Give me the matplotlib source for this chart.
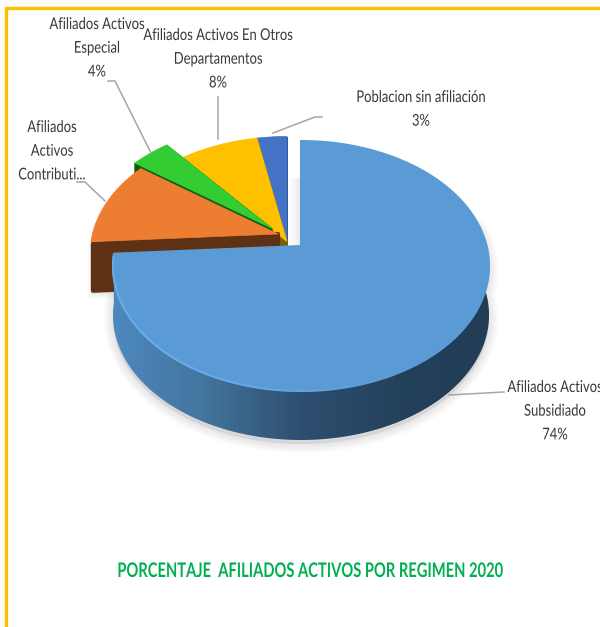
import numpy as np
import matplotlib
matplotlib.use("Agg")
import matplotlib.pyplot as plt
import matplotlib.patheffects as pe
from matplotlib.collections import LineCollection
from matplotlib.colors import to_rgb
from matplotlib.patches import Polygon
from matplotlib.transforms import Affine2D

plt.rcParams['font.family'] = ['Lato', 'Open Sans', 'DejaVu Sans']

# ---- data (clockwise from 12 o'clock) ----
categories = ["Afiliados Activos Subsidiado", "Afiliados Activos Contributivo",
              "Afiliados Activos Especial", "Afiliados Activos En Otros Departamentos",
              "Poblacion sin afiliación"]
values = [74, 11, 4, 8, 3]
title = "PORCENTAJE  AFILIADOS ACTIVOS POR REGIMEN 2020"

# ---- style ----
colors = ["#5B9BD5", "#ED7D31", "#33CC33", "#FFC000", "#4472C4"]
side_colors = ["#3F6F9E", "#5E3114", "#0E5C0E", "#7F6000", "#2F4F8F"]
offsets = [(14, 4.5), (-9, -7.5), (-15, -13), (0, 0), (0, 0)]
APEX = (287, 241.5)
A, B, K = 185.6, 121.8, 0.16
DEPTH = 49

fig = plt.figure(figsize=(6.0, 6.27), dpi=100)
ax = fig.add_axes([0, 0, 1, 1])
ax.axis("off")


class Squeeze(pe.AbstractPathEffect):
    """Narrow a real text horizontally about its anchor (condensed look)."""

    def __init__(self, sx, text):
        super().__init__()
        self.sx, self.text = sx, text

    def draw_path(self, renderer, gc, tpath, affine, rgbFace=None):
        cx = self.text.get_transform().transform(self.text.get_position())[0]
        squeezed = affine + Affine2D().translate(-cx, 0).scale(self.sx, 1).translate(cx, 0)
        renderer.draw_path(gc, tpath, squeezed, rgbFace)


def pt(theta_deg, off):
    t = np.radians(theta_deg)
    u, v = np.sin(t), np.cos(t)
    d = 1 + K * v
    return APEX[0] + off[0] + A * u / d, APEX[1] + off[1] - B * v / d


def wedge(t0, t1, off, n=200):
    th = np.linspace(t0, t1, n)
    x, y = pt(th, off)
    return np.r_[APEX[0] + off[0], x], np.r_[APEX[1] + off[1], y]


def soft_shadow(x, y, dy=3, widths=(13, 10, 7.5, 5, 2.5), z=1):
    for w in widths:
        ax.fill(x, np.asarray(y) + dy, fc="#808080", ec="#808080", lw=w,
                alpha=0.035, joinstyle="round", zorder=z)


edges = np.r_[0, np.cumsum(values)] * 360.0 / sum(values)

# frame
ax.plot([6, 6, 600], [627, 8, 8], color="#FFC000", lw=2.4, solid_joinstyle="miter", zorder=0.5)

# shadow next to the cut of the big slice
for w in (22, 16, 11, 6):
    ax.plot([301, 301], [178, 246], color="#808080", lw=w * 0.72, alpha=0.035,
            solid_capstyle="butt", zorder=1)

# back slices, last to second
for i in [4, 3, 2, 1]:
    x, y = wedge(edges[i], edges[i + 1], offsets[i])
    if i == 1:
        sx = np.r_[x[0], x[1] + 2, x[1] + 2, x[0]]
        sy = np.r_[y[0], y[1] + 2, y[1] + DEPTH, y[0] + DEPTH]
        soft_shadow(sx, sy, dy=3, widths=(8, 5, 2.5), z=2)
        ax.fill(sx, sy, fc=side_colors[i], ec=side_colors[i], lw=3,
                joinstyle="round", zorder=3 + (5 - i) * 0.1)
    else:
        for (px, py) in [(x[1], y[1]), (x[-1], y[-1])]:
            ax.fill([x[0], px, px, x[0]], [y[0], py, py + DEPTH, y[0] + DEPTH],
                    fc=side_colors[i], ec=side_colors[i], lw=0.5,
                    joinstyle="round", zorder=3 + (5 - i) * 0.1)
    ax.fill(x, y, fc=colors[i], ec=colors[i], lw=0.5, zorder=3.05 + (5 - i) * 0.1)

# big slice: wall with a smooth left-to-right shade
off = offsets[0]
stop_x = [114, 200, 300, 400, 490]
stop_c = np.array([to_rgb(c) for c in ["#4D88BE", "#44769F", "#2E4F70", "#24415C", "#223C54"]])
th = np.linspace(80, edges[1], 260)
tx, ty = pt(th, off)
wall_x = np.r_[tx, tx[::-1]]
wall_y = np.r_[ty, ty[::-1] + DEPTH]
soft_shadow(wall_x, wall_y, dy=4, z=2)
grid = np.arange(100, 505)
shade = np.stack([np.interp(grid, stop_x, stop_c[:, k]) for k in range(3)], axis=-1)[None, :, :]
im = ax.imshow(shade, extent=(100, 505, 450, 240), aspect="auto", interpolation="bilinear", zorder=4)
clip = Polygon(np.c_[wall_x, wall_y], closed=True, transform=ax.transData)
im.set_clip_path(clip)

# big slice: top
x, y = wedge(edges[0], edges[1], off)
ax.fill(x, y, fc=colors[0], ec=colors[0], lw=1.5, joinstyle="round", zorder=5)

# bright rim along the front-left edge
th = np.linspace(150, edges[1] - 1, 90)
rx, ry = pt(th, off)
segs = [[(rx[j], ry[j]), (rx[j + 1], ry[j + 1])] for j in range(len(th) - 1)]
rim_alpha = np.clip((th[:-1] - 150) / 60, 0, 1) * 0.8
ax.add_collection(LineCollection(segs, colors=[(0.42, 0.70, 0.95, a) for a in rim_alpha],
                                 linewidths=1.4, zorder=5.1))

# leaders
leaders = [
    ([504, 449], [392, 395]),
    ([77, 85, 105], [182, 182, 201]),
    ([108, 115, 151], [81, 81, 153]),
    ([218, 218], [97, 139]),
    ([322, 315, 273], [117, 117, 133]),
]
for lx, ly in leaders:
    ax.plot(lx, ly, color="#A6A6A6", lw=1.1, zorder=6)

ax.set_xlim(0, 600)
ax.set_ylim(627, 0)


def squeezed_text(cx, cy, s, sx, **kw):
    t = ax.text(cx, cy, s, ha="center", va="center", zorder=7, **kw)
    t.set_path_effects([Squeeze(sx, t)])
    return t


# labels
label_lines = [
    (["Afiliados Activos", "Subsidiado", "74%"], 555, 388),
    (["Afiliados", "Activos", "Contributi..."], 52, 128),
    (["Afiliados Activos", "Especial", "4%"], 97, 25),
    (["Afiliados Activos En Otros", "Departamentos", "8%"], 218, 36),
    (["Poblacion sin afiliación", "3%"], 421, 98),
]
for lines, cx, y0 in label_lines:
    for n, s in enumerate(lines):
        squeezed_text(cx, y0 + n * 23.7, s, 0.80, fontsize=11.7, color="#383838")

squeezed_text(310, 571, title, 0.73, fontsize=14.5, fontweight="bold", color="#00B050")

fig.savefig("out.png", dpi=100)
